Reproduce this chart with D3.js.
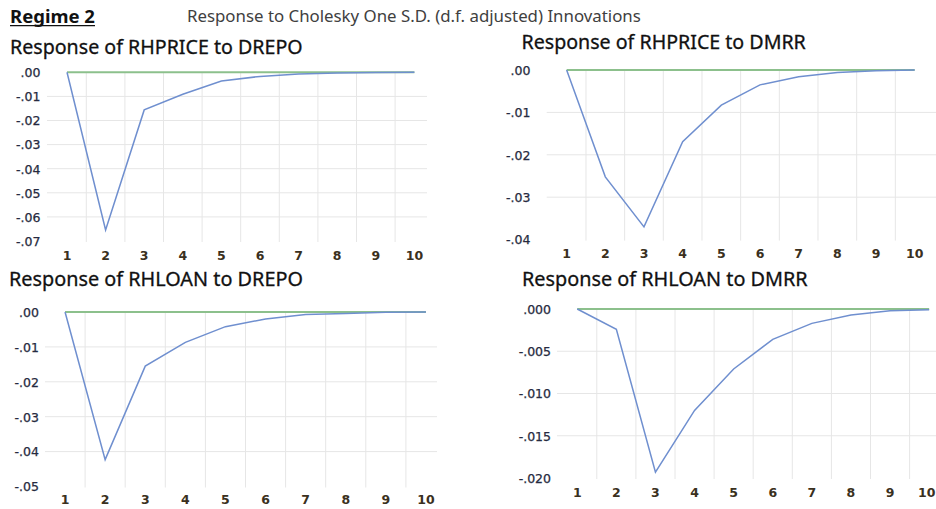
<!DOCTYPE html>
<html>
<head>
<meta charset="utf-8">
<script src="https://cdn.jsdelivr.net/npm/d3@7"></script>
<style>
  html, body { margin: 0; padding: 0; background: #fff; }
  svg { display: block; }
</style>
</head>
<body>
<svg id="chart" width="936" height="509"></svg>
<script>
// ---------- data ----------
const periods = [1, 2, 3, 4, 5, 6, 7, 8, 9, 10];
const headerLeft = "Regime 2";
const headerMain = "Response to Cholesky One S.D. (d.f. adjusted) Innovations";
const titles = [
  "Response of RHPRICE to DREPO",
  "Response of RHPRICE to DMRR",
  "Response of RHLOAN to DREPO",
  "Response of RHLOAN to DMRR"
];
const rhpriceDrepo = [0, -0.0654, -0.0156, -0.0091, -0.0036, -0.0017, -0.0007, -0.0003, -0.0001, 0];
const rhpriceDmrr  = [0, -0.0252, -0.0370, -0.0169, -0.0083, -0.0035, -0.0016, -0.0006, -0.0002, 0];
const rhloanDrepo  = [0, -0.0423, -0.0155, -0.0087, -0.0042, -0.0020, -0.0007, -0.0004, -0.0001, 0];
const rhloanDmrr   = [0, -0.0024, -0.0193, -0.0120, -0.0071, -0.0036, -0.0017, -0.0007, -0.0002, -0.0001];
const zeroLine     = [0, 0, 0, 0, 0, 0, 0, 0, 0, 0];
const ticks1 = [0, -0.01, -0.02, -0.03, -0.04, -0.05, -0.06, -0.07];
const ticks2 = [0, -0.01, -0.02, -0.03, -0.04];
const ticks3 = [0, -0.01, -0.02, -0.03, -0.04, -0.05];
const ticks4 = [0, -0.005, -0.010, -0.015, -0.020];
const tickLabels1 = [".00", "-.01", "-.02", "-.03", "-.04", "-.05", "-.06", "-.07"];
const tickLabels2 = [".00", "-.01", "-.02", "-.03", "-.04"];
const tickLabels3 = [".00", "-.01", "-.02", "-.03", "-.04", "-.05"];
const tickLabels4 = [".000", "-.005", "-.010", "-.015", "-.020"];

// ---------- layout ----------
const panels = [
  { title: titles[0], values: rhpriceDrepo, ticks: ticks1, labels: tickLabels1,
    tx: 10, ty: 53.5, tw: 293,
    bx: [47.7, 433.7], gx: [47, 427], yr: [241, 72.3], ylabX: 40.5, xlabY: 260 },
  { title: titles[1], values: rhpriceDmrr, ticks: ticks2, labels: tickLabels2,
    tx: 521.5, ty: 48.5, tw: 284.5,
    bx: [547.3, 934], gx: [546.7, 936], yr: [239.6, 70], ylabX: 530.5, xlabY: 257.5 },
  { title: titles[2], values: rhloanDrepo, ticks: ticks3, labels: tickLabels3,
    tx: 9, ty: 286, tw: 294,
    bx: [45, 446], gx: [45, 437], yr: [486.5, 312], ylabX: 39, xlabY: 504 },
  { title: titles[3], values: rhloanDmrr, ticks: ticks4, labels: tickLabels4,
    tx: 522, ty: 286, tw: 286,
    bx: [557.7, 948.7], gx: [557, 936], yr: [478, 309], ylabX: 551, xlabY: 496.5 }
];

const svg = d3.select("#chart");
const W = 936;
const FONT = "'DejaVu Sans', Verdana, sans-serif";
const TFONT = "'Noto Sans', 'Open Sans', sans-serif";

function fitText(sel, targetW, baseSize) {
  sel.attr("font-size", baseSize);
  const w = sel.node().getComputedTextLength();
  if (w > 0) sel.attr("font-size", baseSize * targetW / w);
}

// header
const reg = svg.append("text")
  .attr("x", 10).attr("y", 23.3)
  .attr("font-family", TFONT).attr("font-weight", "bold")
  .attr("fill", "#111").text(headerLeft);
fitText(reg, 85, 16);
svg.append("line").attr("x1", 10).attr("x2", 95).attr("y1", 25.6).attr("y2", 25.6)
  .attr("stroke", "#111").attr("stroke-width", 1.2);

const hm = svg.append("text")
  .attr("x", 187).attr("y", 22)
  .attr("font-family", TFONT).attr("fill", "#404040").text(headerMain);
fitText(hm, 454, 14);

panels.forEach(p => {
  const g = svg.append("g");
  const x = d3.scaleBand().domain(periods).range(p.bx).padding(0);
  const cx = d => x(d) + x.bandwidth() / 2;
  const ymin = d3.min(p.ticks);
  const y = d3.scaleLinear().domain([ymin, 0]).range(p.yr);

  // title
  const t = g.append("text").attr("x", p.tx).attr("y", p.ty)
    .attr("font-family", TFONT).attr("fill", "#111")
    .attr("stroke", "#111").attr("stroke-width", 0.3).text(p.title);
  fitText(t, p.tw, 17);

  // horizontal gridlines (skip zero and bottom)
  g.selectAll(".hg").data(p.ticks.filter(v => v !== 0 && v !== ymin)).join("line")
    .attr("x1", p.gx[0]).attr("x2", p.gx[1])
    .attr("y1", d => y(d)).attr("y2", d => y(d))
    .attr("stroke", "#e6e6e6").attr("stroke-width", 1);

  // vertical gridlines at band boundaries
  g.selectAll(".vg").data(periods.slice(1)).join("line")
    .attr("x1", d => x(d)).attr("x2", d => x(d))
    .attr("y1", y(0)).attr("y2", y(ymin) + 1)
    .attr("stroke", "#e6e6e6").attr("stroke-width", 1);

  // y axis labels
  const yAxis = d3.axisLeft(y).tickValues(p.ticks)
    .tickFormat((d, i) => p.labels[i]).tickSize(0).tickPadding(0);
  const ya = g.append("g").attr("transform", `translate(${p.ylabX},0)`).call(yAxis);
  ya.select(".domain").remove();
  ya.selectAll("text").attr("font-family", FONT).attr("font-size", 12.5)
    .attr("fill", "#262a40").attr("stroke", "#262a40").attr("stroke-width", 0.25)
    .attr("dy", "0.35em");

  // x axis labels
  const xAxis = d3.axisBottom(x).tickSize(0).tickPadding(0);
  const xa = g.append("g").attr("transform", `translate(0,${p.xlabY})`).call(xAxis);
  xa.select(".domain").remove();
  xa.selectAll("text").attr("font-family", FONT).attr("font-size", 12.5)
    .attr("font-weight", "bold").attr("fill", "#3a3020").attr("dy", "0");
  // keep labels inside the window
  xa.selectAll("text").each(function () {
    const b = this.getBBox();
    const gx = cx(+d3.select(this.parentNode).datum());
    const right = gx + b.width / 2;
    if (right > W - 0.5) d3.select(this).attr("x", (W - 0.5) - right);
  });

  const line = d3.line().x((d, i) => cx(periods[i])).y(d => y(d));

  g.append("path").datum(zeroLine).attr("d", line)
    .attr("fill", "none").attr("stroke", "#8cc08c").attr("stroke-width", 2);
  g.append("path").datum(p.values).attr("d", line)
    .attr("fill", "none").attr("stroke", "#6f8fcf").attr("stroke-width", 1.5);
});
</script>
</body>
</html>
